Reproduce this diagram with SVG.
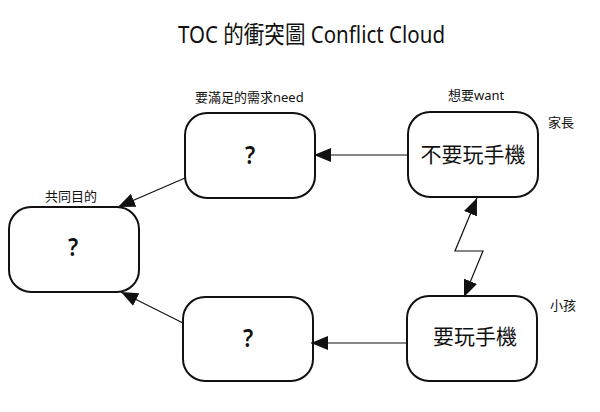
<svg xmlns="http://www.w3.org/2000/svg" width="600" height="412" viewBox="0 0 600 412">
<style>
text{font-family:"Noto Sans","Noto Sans CJK TC",sans-serif;fill:#111}
.box{fill:#fff;stroke:#111;stroke-width:2}
.lbl{font-size:13px}
.q{font-size:26px;font-weight:600;text-anchor:middle}
.big{font-size:21px;text-anchor:middle}
.con{stroke:#111;stroke-width:1.2;fill:none}
</style>
<defs>
<marker id="ah" markerUnits="userSpaceOnUse" markerWidth="18" markerHeight="14" refX="17" refY="7" orient="auto">
<path d="M0,0 L17,7 L0,14 Z" fill="#111"/>
</marker>
<marker id="ahs" markerUnits="userSpaceOnUse" markerWidth="18" markerHeight="14" refX="1" refY="7" orient="auto">
<path d="M18,0 L1,7 L18,14 Z" fill="#111"/>
</marker>
</defs>
<rect width="600" height="412" fill="#fff"/>
<text x="178" y="43" font-size="24" textLength="267" lengthAdjust="spacingAndGlyphs">TOC 的衝突圖 Conflict Cloud</text>
<g id="goal">
<rect class="box" x="9" y="207" width="130" height="85" rx="22"/>
<text class="q" x="73" y="256" transform="translate(73 0) scale(0.85 1) translate(-73 0)">?</text>
<text class="lbl" x="45" y="201">共同目的</text>
</g>
<g id="need-top">
<rect class="box" x="185" y="113" width="130" height="85" rx="22"/>
<text class="q" x="250" y="164" transform="translate(250 0) scale(0.85 1) translate(-250 0)">?</text>
<text class="lbl" x="195" y="102">要滿足的需求need</text>
</g>
<g id="need-bottom">
<rect class="box" x="183" y="297" width="130" height="84" rx="22"/>
<text class="q" x="248" y="347" transform="translate(248 0) scale(0.85 1) translate(-248 0)">?</text>
</g>
<g id="want-top">
<rect class="box" x="408" y="112" width="130" height="85" rx="22"/>
<text class="big" x="473" y="162">不要玩手機</text>
<text class="lbl" x="448" y="100">想要want</text>
<text class="lbl" x="548" y="127">家長</text>
</g>
<g id="want-bottom">
<rect class="box" x="407" y="296" width="130" height="85" rx="22"/>
<text class="big" x="475" y="344">要玩手機</text>
<text class="lbl" x="550" y="310">小孩</text>
</g>
<g id="connectors">
<line class="con" x1="408" y1="155" x2="314" y2="155" marker-end="url(#ah)"/>
<line class="con" x1="407" y1="343" x2="311" y2="343" marker-end="url(#ah)"/>
<line class="con" x1="185" y1="178" x2="118" y2="207" marker-end="url(#ah)"/>
<line class="con" x1="183" y1="323" x2="121" y2="292" marker-end="url(#ah)"/>
<polyline class="con" points="477,198 455,251 483,251 464,297" marker-start="url(#ahs)" marker-end="url(#ah)"/>
</g>
</svg>
